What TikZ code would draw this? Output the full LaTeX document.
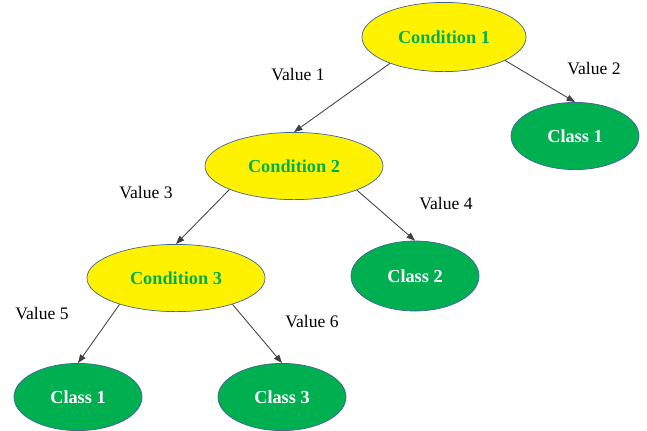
\documentclass[tikz,border=0pt]{standalone}
\usepackage{fontspec}
\setmainfont{Liberation Serif}
\usetikzlibrary{shapes.geometric,arrows.meta}
\definecolor{leafgreen}{RGB}{0,176,80}
\definecolor{rimblue}{RGB}{65,100,150}
\tikzset{
  cond/.style={ellipse, draw=rimblue, line width=0.5pt, fill=yellow, inner sep=0pt,
    minimum width=4.45cm, minimum height=1.68cm, text=leafgreen,
    font=\fontsize{13}{15}\selectfont\bfseries},
  leaf/.style={ellipse, draw=rimblue, line width=0.5pt, fill=leafgreen, inner sep=0pt,
    minimum width=3.2cm, minimum height=1.68cm, text=white,
    font=\fontsize{13}{15}\selectfont\bfseries},
  val/.style={font=\fontsize{12.5}{15}\selectfont},
  edge/.style={-{Triangle[length=6pt,width=4.5pt]}, draw=black!75, line width=0.6pt}
}
\begin{document}
\begin{tikzpicture}[x=0.025cm, y=-0.025cm]
\useasboundingbox (0,0) rectangle (647,430);
\node[cond, minimum width=4.1cm, minimum height=1.73cm] (C1) at (444,37) {Condition 1};
\node[cond] (C2) at (294,166) {Condition 2};
\node[cond] (C3) at (176,278) {Condition 3};
\node[leaf] (L1) at (575,136) {Class 1};
\node[leaf, minimum height=1.75cm] (L2) at (415,276) {Class 2};
\node[leaf] (L3) at (78,397) {Class 1};
\node[leaf] (L4) at (282,397) {Class 3};

\node[val] (V1) at (298,75)  {Value 1};
\node[val] (V2) at (594,69)  {Value 2};
\node[val] (V3) at (146,193) {Value 3};
\node[val] (V4) at (446,204) {Value 4};
\node[val] (V5) at (42,314)  {Value 5};
\node[val] (V6) at (312,322) {Value 6};

\draw[edge] (C1.206) -- (C2.north);
\draw[edge] (C1.339) -- (L1.north);
\draw[edge] (C2.200) -- (C3.north);
\draw[edge] (C2.339) -- (L2.north);
\draw[edge] (C3.205) -- (L3.north);
\draw[edge] (C3.335) -- (L4.north);
\end{tikzpicture}
\end{document}
